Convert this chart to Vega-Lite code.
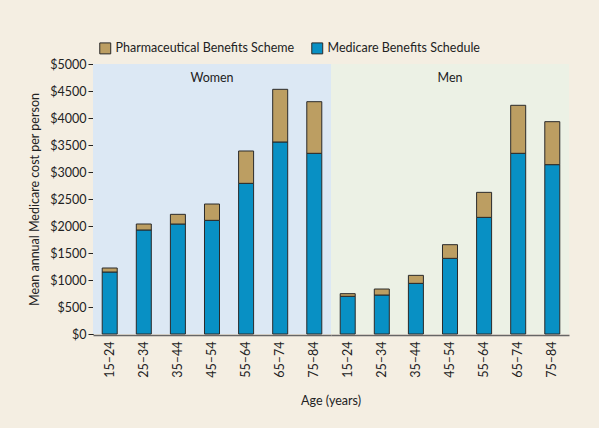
{
  "$schema": "https://vega.github.io/schema/vega-lite/v6.json",
  "background": "#f4eee2",
  "padding": {"left": 28, "top": 42, "right": 30, "bottom": 20},
  "data": {
    "values": [
      {"sex": "Women", "age": "15–24", "type": "Medicare Benefits Schedule", "cost": 1148},
      {"sex": "Women", "age": "15–24", "type": "Pharmaceutical Benefits Scheme", "cost": 74},
      {"sex": "Women", "age": "25–34", "type": "Medicare Benefits Schedule", "cost": 1926},
      {"sex": "Women", "age": "25–34", "type": "Pharmaceutical Benefits Scheme", "cost": 111},
      {"sex": "Women", "age": "35–44", "type": "Medicare Benefits Schedule", "cost": 2037},
      {"sex": "Women", "age": "35–44", "type": "Pharmaceutical Benefits Scheme", "cost": 179},
      {"sex": "Women", "age": "45–54", "type": "Medicare Benefits Schedule", "cost": 2105},
      {"sex": "Women", "age": "45–54", "type": "Pharmaceutical Benefits Scheme", "cost": 302},
      {"sex": "Women", "age": "55–64", "type": "Medicare Benefits Schedule", "cost": 2790},
      {"sex": "Women", "age": "55–64", "type": "Pharmaceutical Benefits Scheme", "cost": 599},
      {"sex": "Women", "age": "65–74", "type": "Medicare Benefits Schedule", "cost": 3556},
      {"sex": "Women", "age": "65–74", "type": "Pharmaceutical Benefits Scheme", "cost": 975},
      {"sex": "Women", "age": "75–84", "type": "Medicare Benefits Schedule", "cost": 3346},
      {"sex": "Women", "age": "75–84", "type": "Pharmaceutical Benefits Scheme", "cost": 956},
      {"sex": "Men", "age": "15–24", "type": "Medicare Benefits Schedule", "cost": 698},
      {"sex": "Men", "age": "15–24", "type": "Pharmaceutical Benefits Scheme", "cost": 49},
      {"sex": "Men", "age": "25–34", "type": "Medicare Benefits Schedule", "cost": 722},
      {"sex": "Men", "age": "25–34", "type": "Pharmaceutical Benefits Scheme", "cost": 111},
      {"sex": "Men", "age": "35–44", "type": "Medicare Benefits Schedule", "cost": 938},
      {"sex": "Men", "age": "35–44", "type": "Pharmaceutical Benefits Scheme", "cost": 148},
      {"sex": "Men", "age": "45–54", "type": "Medicare Benefits Schedule", "cost": 1401},
      {"sex": "Men", "age": "45–54", "type": "Pharmaceutical Benefits Scheme", "cost": 253},
      {"sex": "Men", "age": "55–64", "type": "Medicare Benefits Schedule", "cost": 2160},
      {"sex": "Men", "age": "55–64", "type": "Pharmaceutical Benefits Scheme", "cost": 463},
      {"sex": "Men", "age": "65–74", "type": "Medicare Benefits Schedule", "cost": 3346},
      {"sex": "Men", "age": "65–74", "type": "Pharmaceutical Benefits Scheme", "cost": 889},
      {"sex": "Men", "age": "75–84", "type": "Medicare Benefits Schedule", "cost": 3136},
      {"sex": "Men", "age": "75–84", "type": "Pharmaceutical Benefits Scheme", "cost": 796}
    ]
  },
  "facet": {
    "column": {
      "field": "sex",
      "type": "nominal",
      "sort": ["Women", "Men"],
      "header": {
        "title": "Age (years)",
        "titleOrient": "bottom",
        "labels": false,
        "titleFontWeight": "normal",
        "titleFontSize": 12.5,
        "titleFont": "Lato",
        "titleColor": "#222",
        "titlePadding": 7
      }
    }
  },
  "spacing": 0,
  "spec": {
    "width": 238,
    "height": 270,
    "layer": [
      {
        "transform": [{"filter": "datum.age === '15–24' && datum.type === 'Medicare Benefits Schedule'"}],
        "mark": {"type": "rect"},
        "encoding": {
          "y": {
            "datum": 0,
            "type": "quantitative",
            "scale": {"domain": [0, 5000], "nice": false},
            "axis": {
              "title": "Mean annual Medicare cost per person",
              "values": [0, 500, 1000, 1500, 2000, 2500, 3000, 3500, 4000, 4500, 5000],
              "labelExpr": "'$' + datum.value",
              "labelOverlap": false,
              "labelFlush": false,
              "grid": false,
              "tickColor": "#222",
              "tickSize": 5,
              "domainColor": "#222",
              "titlePadding": 8
            }
          },
          "y2": {"datum": 5000},
          "fill": {
            "condition": {"test": "datum.sex === 'Women'", "value": "#dce8f4"},
            "value": "#ecf1e5"
          }
        }
      },
      {
        "transform": [{"filter": "datum.age === '15–24' && datum.type === 'Medicare Benefits Schedule'"}],
        "mark": {"type": "text", "font": "Lato", "fontSize": 12.5, "color": "#222", "baseline": "middle"},
        "encoding": {
          "y": {
            "datum": 4740,
            "type": "quantitative",
            "axis": {
              "title": "Mean annual Medicare cost per person",
              "values": [0, 500, 1000, 1500, 2000, 2500, 3000, 3500, 4000, 4500, 5000],
              "labelExpr": "'$' + datum.value",
              "labelOverlap": false,
              "labelFlush": false,
              "grid": false,
              "tickColor": "#222",
              "tickSize": 5,
              "domainColor": "#222",
              "titlePadding": 8
            }
          },
          "text": {"field": "sex"}
        }
      },
      {
        "mark": {"type": "bar", "stroke": "#2a2a2a", "strokeWidth": 1},
        "encoding": {
          "x": {
            "field": "age",
            "type": "nominal",
            "sort": null,
            "scale": {"paddingInner": 0.56, "paddingOuter": 0.27},
            "axis": {
              "title": null,
              "labelAngle": -90,
              "ticks": false,
              "labelPadding": 6,
              "domainColor": "#666",
              "domainWidth": 1.5
            }
          },
          "y": {
            "field": "cost",
            "type": "quantitative",
            "stack": "zero",
            "scale": {"domain": [0, 5000], "nice": false},
            "axis": {
              "title": "Mean annual Medicare cost per person",
              "values": [0, 500, 1000, 1500, 2000, 2500, 3000, 3500, 4000, 4500, 5000],
              "labelExpr": "'$' + datum.value",
              "labelOverlap": false,
              "labelFlush": false,
              "grid": false,
              "tickColor": "#222",
              "tickSize": 5,
              "domainColor": "#222",
              "titlePadding": 8
            }
          },
          "color": {
            "field": "type",
            "type": "nominal",
            "scale": {
              "domain": ["Pharmaceutical Benefits Scheme", "Medicare Benefits Schedule"],
              "range": ["#bc9e62", "#0890c4"]
            },
            "legend": {
              "title": null,
              "orient": "none",
              "direction": "horizontal",
              "legendX": 6,
              "legendY": -22,
              "symbolType": "square",
              "symbolSize": 120,
              "symbolStrokeColor": "#2a2a2a",
              "symbolStrokeWidth": 1,
              "symbolOpacity": 1,
              "columnPadding": 14,
              "labelFontSize": 12.5,
              "labelLimit": 300
            }
          },
          "order": {"field": "type", "sort": "ascending"}
        }
      }
    ]
  },
  "config": {
    "font": "Lato",
    "view": {"stroke": null},
    "axis": {
      "labelFont": "Lato",
      "labelFontSize": 12.5,
      "labelColor": "#222",
      "titleFont": "Lato",
      "titleFontSize": 12.5,
      "titleFontWeight": "normal",
      "titleColor": "#222"
    },
    "legend": {"labelFont": "Lato", "labelColor": "#222"}
  }
}
